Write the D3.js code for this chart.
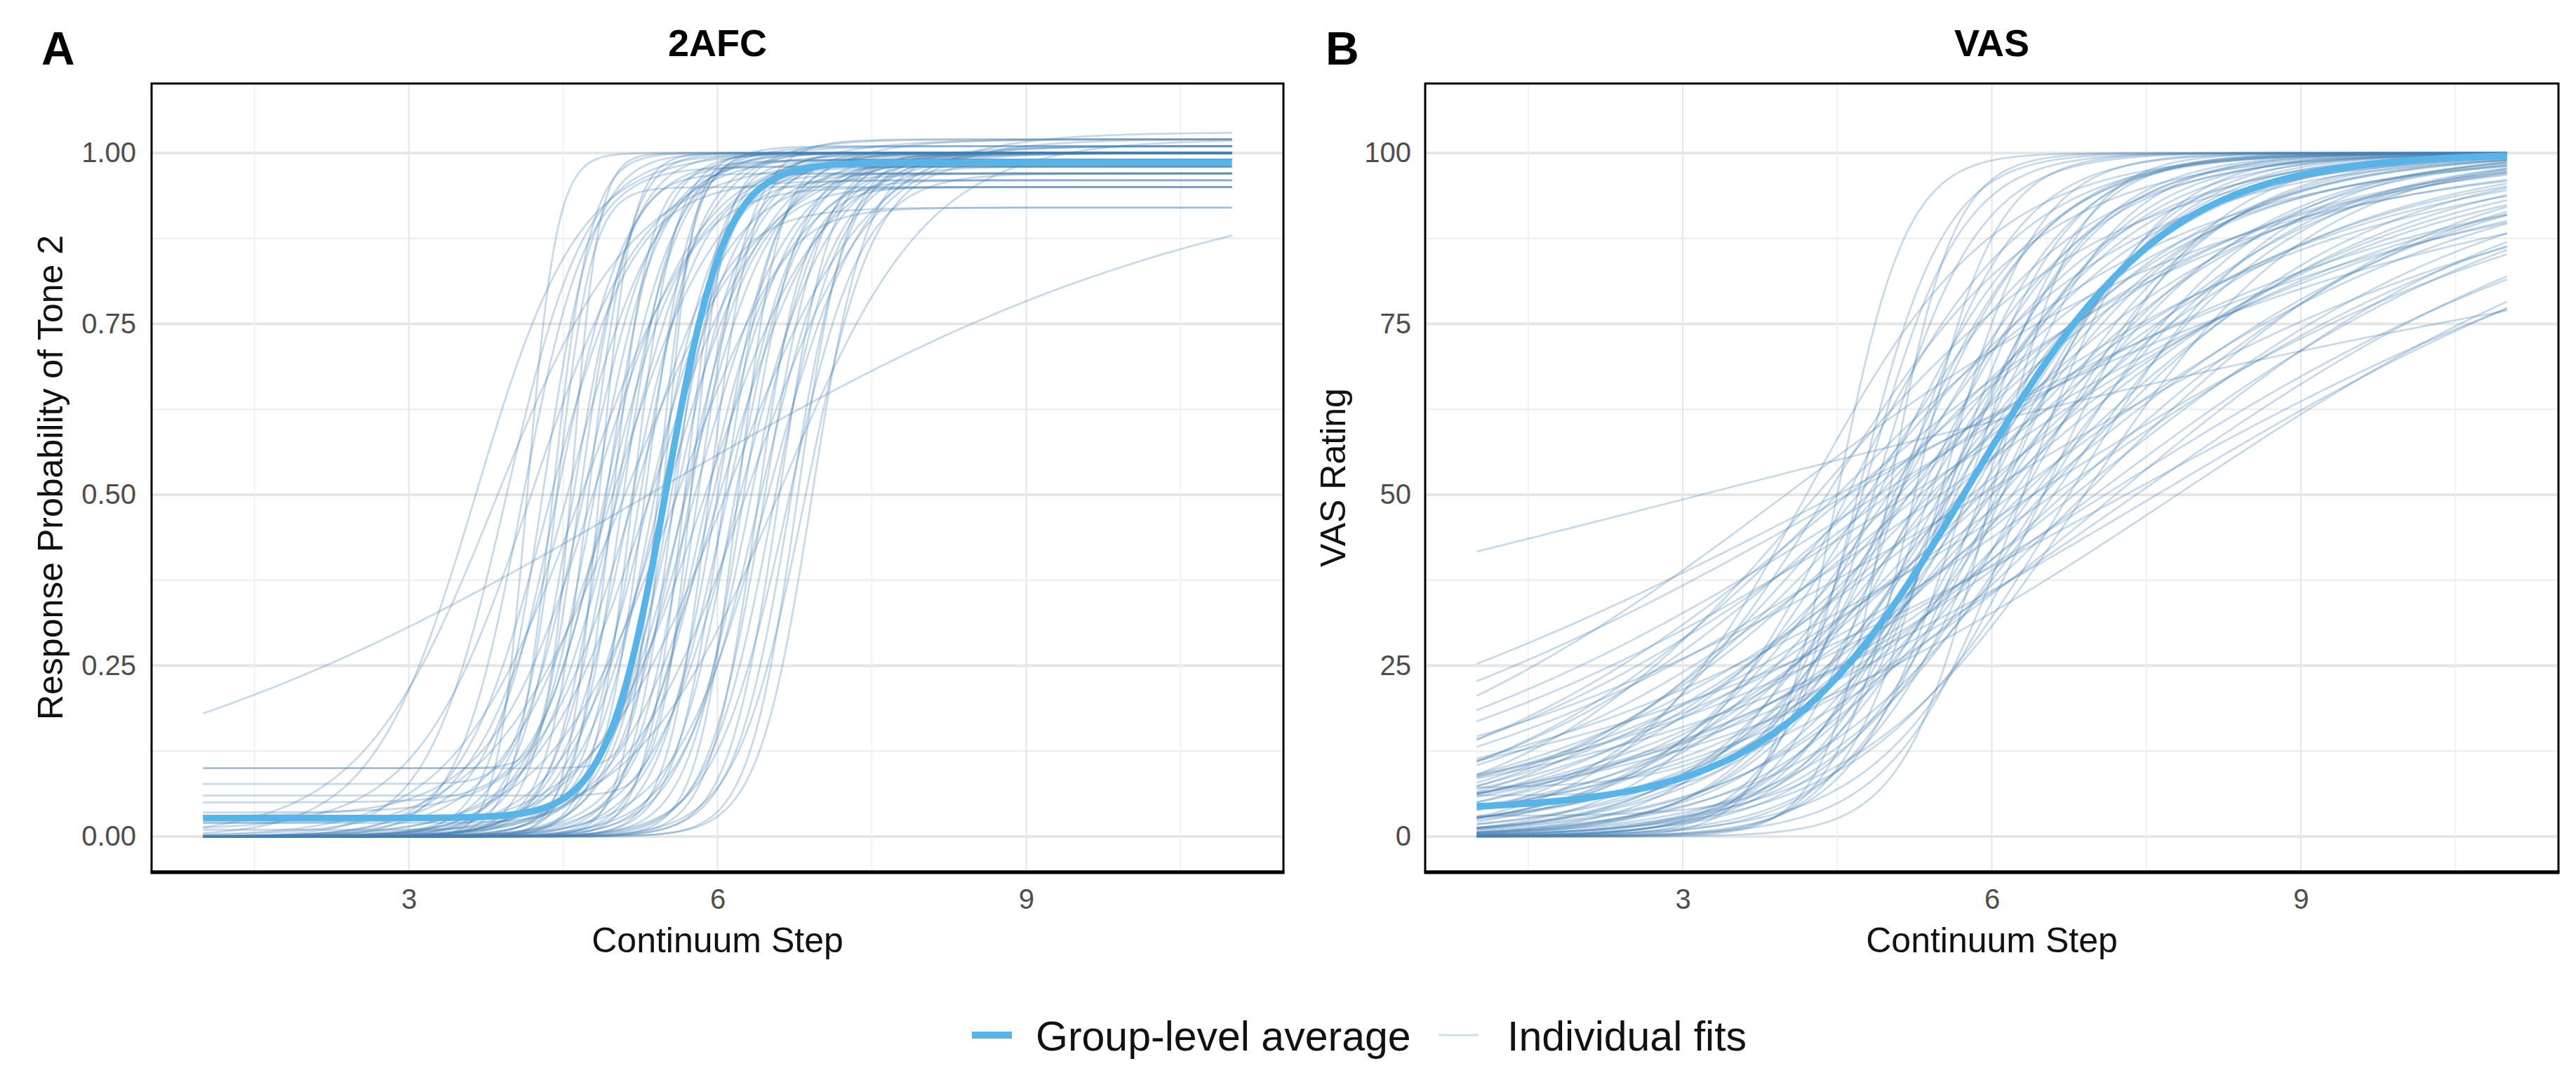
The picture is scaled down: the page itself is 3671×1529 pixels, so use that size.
<!DOCTYPE html>
<html>
<head>
<meta charset="utf-8">
<script src="https://cdn.jsdelivr.net/npm/d3@7"></script>
<style>
  body { margin: 0; background: #fff; }
  text { font-family: "Liberation Sans", Arial, Helvetica, sans-serif; }
</style>
</head>
<body>
<svg id="fig" width="3671" height="1529"></svg>
<script>
// ---- data ----
// each fit: [midpoint, slope, lower asymptote, upper asymptote]
const stepRange = [1, 11];
const xTicks = [3, 6, 9];
const xMinor = [1.5, 4.5, 7.5, 10.5];
const afcTicks = [0, 0.25, 0.5, 0.75, 1];
const afcMinor = [0.125, 0.375, 0.625, 0.875];
const vasTicks = [0, 25, 50, 75, 100];
const vasMinor = [12.5, 37.5, 62.5, 87.5];

const afcGroup = [5.5, 3.5, 0.027, 0.986];
const afcFits = [
  [3.65, 2.0, 0, 1.00], [3.85, 1.5, 0, 0.99], [3.95, 2.6, 0, 1.00], [4.15, 7.0, 0, 1.00],
  [4.10, 3.2, 0, 0.98], [4.20, 1.8, 0.01, 1.00], [4.30, 4.0, 0, 1.00], [4.35, 2.4, 0, 0.96],
  [4.40, 5.5, 0, 1.00], [4.45, 3.0, 0.02, 0.99], [4.45, 6.0, 0.077, 0.95], [4.60, 8.0, 0.10, 1.00],
  [4.55, 2.2, 0, 1.01], [4.60, 3.6, 0, 1.00], [4.65, 4.5, 0, 0.97], [4.70, 2.8, 0, 1.00],
  [4.70, 1.6, 0, 1.02], [4.75, 5.0, 0.01, 1.00], [4.80, 3.2, 0, 0.99], [4.82, 2.0, 0.03, 1.00],
  [4.85, 6.5, 0, 1.00], [4.90, 2.6, 0, 0.95], [4.92, 4.0, 0, 1.00], [4.95, 3.0, 0.05, 1.01],
  [4.98, 1.9, 0, 1.00], [4.98, 5.5, 0, 0.98], [5.02, 3.4, 0, 1.00], [5.05, 2.4, 0, 1.02],
  [5.08, 4.2, 0, 0.99], [5.10, 1.5, 0, 1.00], [5.15, 3.0, 0, 0.97], [5.18, 5.0, 0, 1.00],
  [5.20, 2.2, 0.035, 0.97], [5.25, 3.6, 0, 1.00], [5.28, 2.7, 0, 0.92], [5.30, 4.5, 0, 1.01],
  [5.35, 1.8, 0, 1.00], [5.38, 3.2, 0, 0.98], [5.42, 6.0, 0, 1.00], [5.45, 2.5, 0, 1.00],
  [5.48, 3.8, 0.02, 0.96], [5.50, 7.5, 0.10, 1.00], [5.52, 2.0, 0, 1.02], [5.55, 3.4, 0, 1.00],
  [5.58, 4.6, 0, 0.99], [5.60, 2.8, 0, 1.00], [5.62, 1.6, 0, 1.01], [5.65, 3.0, 0, 0.95],
  [5.68, 5.2, 0, 1.00], [5.70, 2.4, 0, 1.00], [5.72, 3.6, 0, 0.97], [5.75, 6.5, 0.06, 0.97],
  [5.78, 2.2, 0, 1.00], [5.82, 4.0, 0, 1.02], [5.85, 3.0, 0, 0.92], [5.88, 1.8, 0, 1.00],
  [5.92, 4.8, 0, 1.00], [5.95, 2.6, 0, 0.99], [6.00, 3.5, 0, 1.00], [6.03, 2.0, 0, 1.01],
  [6.06, 4.2, 0, 0.98], [6.10, 2.8, 0, 1.00], [6.12, 1.5, 0, 1.03], [6.15, 3.4, 0, 0.96],
  [6.20, 5.0, 0, 1.00], [6.22, 2.3, 0, 1.00], [6.25, 3.8, 0, 0.99], [6.30, 1.7, 0, 1.02],
  [6.33, 3.0, 0, 1.00], [6.38, 4.4, 0, 0.95], [6.42, 2.6, 0, 1.00], [6.46, 3.6, 0, 1.00],
  [6.50, 2.2, 0, 1.01], [6.55, 3.2, 0, 0.98], [6.60, 4.0, 0, 1.00], [6.62, 1.4, 0, 1.02],
  [6.68, 2.8, 0, 0.97], [6.72, 3.6, 0, 1.00], [6.78, 4.2, 0, 1.00], [6.85, 3.0, 0, 0.99],
  [6.92, 3.8, 0, 1.00], [5.33, 0.35, 0, 1.00]
];

const vasGroup = [5.8, 1.05, 3.8, 100];
const vasFits = [
  // steep
  [4.50, 3.0, 0, 100], [4.70, 2.4, 0, 100], [4.85, 2.0, 0, 100], [5.00, 3.2, 0, 100],
  [5.10, 1.8, 0, 100], [5.25, 2.6, 0, 100], [5.40, 1.6, 0, 100], [5.50, 2.2, 0, 100],
  [5.60, 1.5, 0, 100], [5.75, 1.9, 0, 100], [5.90, 1.6, 0, 100], [6.00, 2.4, 0, 100],
  [6.10, 1.4, 0, 100], [6.30, 1.65, 0, 100], [6.50, 1.3, 0, 100],
  [5.20, 1.5, 7, 100], [4.80, 2.2, 6, 100], [5.60, 1.8, 3, 100],
  // medium
  [4.60, 1.2, 0, 100], [4.80, 1.0, 0, 100], [4.90, 1.3, 0, 100], [5.00, 0.9, 0, 100],
  [5.10, 1.1, 0, 100], [5.20, 0.85, 0, 100], [5.30, 1.25, 0, 100], [5.35, 1.0, 0, 100],
  [5.45, 0.8, 0, 100], [5.50, 1.15, 0, 100], [5.60, 0.95, 0, 100], [5.65, 1.3, 0, 100],
  [5.70, 0.85, 0, 100], [5.80, 1.05, 0, 100], [5.85, 0.9, 0, 100], [5.95, 1.2, 0, 100],
  [6.00, 0.8, 0, 100], [6.10, 1.0, 0, 100], [6.20, 0.88, 0, 100], [6.30, 1.1, 0, 100],
  [6.40, 0.82, 0, 100], [6.50, 0.95, 0, 100], [6.60, 0.85, 0, 100], [6.75, 1.0, 0, 100],
  [6.90, 0.9, 0, 100], [4.40, 0.95, 0, 100], [4.20, 1.1, 0, 100], [5.05, 1.4, 0, 100],
  [5.55, 1.4, 0, 100], [6.05, 1.3, 0, 100],
  // wide
  [4.30, 0.70, 0, 100], [4.50, 0.60, 0, 100], [4.60, 0.50, 0, 100], [4.70, 0.72, 0, 100],
  [4.80, 0.55, 0, 100], [4.90, 0.65, 0, 100], [5.00, 0.45, 0, 100], [5.10, 0.60, 0, 100],
  [5.20, 0.70, 0, 100], [5.30, 0.50, 0, 100], [5.40, 0.62, 0, 100], [5.50, 0.42, 0, 100],
  [5.60, 0.55, 0, 100], [5.70, 0.68, 0, 100], [5.80, 0.48, 0, 100], [5.90, 0.60, 0, 100],
  [6.00, 0.52, 0, 100], [6.10, 0.72, 0, 100], [6.20, 0.45, 0, 100], [6.30, 0.58, 0, 100],
  [6.40, 0.50, 0, 100], [6.50, 0.65, 0, 100], [6.60, 0.42, 0, 100], [6.70, 0.55, 0, 100],
  [6.80, 0.48, 0, 100], [6.90, 0.60, 0, 100], [7.00, 0.45, 0, 100], [7.20, 0.50, 0, 100],
  [7.40, 0.42, 0, 100], [6.40, 0.38, 0, 100], [5.90, 0.36, 0, 100], [7.10, 0.38, 0, 100],
  [7.60, 0.36, 0, 100], [7.80, 0.40, 0, 100], [7.30, 0.33, 0, 100],
  [4.00, 0.45, 0, 100], [4.60, 0.34, 0, 100], [4.90, 0.38, 0, 100], [5.20, 0.38, 0, 100],
  [4.50, 0.31, 0, 100], [3.18, 0.154, 0, 100]
];

const legendLabels = ["Group-level average", "Individual fits"];

// ---- drawing ----
const svg = d3.select("#fig");
const groupColor = "#56B4E9";
const fitColor = "#4682B4";

function fitValue(f, x) {
  const [mid, slope, low, high] = f;
  return low + (high - low) / (1 + Math.exp(-slope * (x - mid)));
}

const samples = d3.range(stepRange[0], stepRange[1] + 1e-9, 0.04);

const panels = [
  { tag: "A", title: "2AFC", ylab: "Response Probability of Tone 2",
    left: 216, right: 1829, tagX: 59, ylabX: 89, pad: 22,
    yDomain: [-0.0513, 1.1016], ticks: afcTicks, minor: afcMinor, fmt: d3.format(".2f"),
    fits: afcFits, group: afcGroup },
  { tag: "B", title: "VAS", ylab: "VAS Rating",
    left: 2031, right: 3646, tagX: 1889, ylabX: 1917, pad: 20,
    yDomain: [-5.13, 110.16], ticks: vasTicks, minor: vasMinor, fmt: d3.format("d"),
    fits: vasFits, group: vasGroup }
];
const plotTop = 119, plotBottom = 1242;

panels.forEach((p, i) => {
  const x = d3.scaleLinear().domain([0.5, 11.5]).range([p.left, p.right]);
  const y = d3.scaleLinear().domain(p.yDomain).range([plotBottom, plotTop]);
  const g = svg.append("g");

  const clipId = "clip" + i;
  svg.append("clipPath").attr("id", clipId)
    .append("rect").attr("x", p.left).attr("y", plotTop)
    .attr("width", p.right - p.left).attr("height", plotBottom - plotTop);

  const grid = g.append("g").attr("clip-path", `url(#${clipId})`);
  // horizontal grid
  grid.selectAll(".hmin").data(p.minor).join("line")
    .attr("x1", p.left).attr("x2", p.right)
    .attr("y1", d => y(d)).attr("y2", d => y(d))
    .attr("stroke", "#efefef").attr("stroke-width", 2.5);
  grid.selectAll(".hmaj").data(p.ticks).join("line")
    .attr("x1", p.left).attr("x2", p.right)
    .attr("y1", d => y(d)).attr("y2", d => y(d))
    .attr("stroke", "#e6e6e6").attr("stroke-width", 4);
  // vertical grid
  grid.selectAll(".vmin").data(xMinor).join("line")
    .attr("y1", plotTop).attr("y2", plotBottom)
    .attr("x1", d => x(d)).attr("x2", d => x(d))
    .attr("stroke", "#eeeff3").attr("stroke-width", 1.6);
  grid.selectAll(".vmaj").data(xTicks).join("line")
    .attr("y1", plotTop).attr("y2", plotBottom)
    .attr("x1", d => x(d)).attr("x2", d => x(d))
    .attr("stroke", "#e6e7ec").attr("stroke-width", 2.2);

  const line = f => d3.line()
    .x(s => x(s))
    .y(s => y(fitValue(f, s)))(samples);

  const curves = g.append("g").attr("clip-path", `url(#${clipId})`);
  curves.selectAll("path.fit").data(p.fits).join("path")
    .attr("class", "fit")
    .attr("d", d => line(d))
    .attr("fill", "none")
    .attr("stroke", fitColor)
    .attr("stroke-opacity", 0.3)
    .attr("stroke-width", 2.7);
  curves.append("path")
    .attr("d", line(p.group))
    .attr("fill", "none")
    .attr("stroke", groupColor)
    .attr("stroke-width", 9.5)
    .attr("stroke-linecap", "butt");

  // panel border
  g.append("rect")
    .attr("x", p.left).attr("y", plotTop)
    .attr("width", p.right - p.left).attr("height", plotBottom - plotTop)
    .attr("fill", "none").attr("stroke", "#000").attr("stroke-width", 3);
  g.append("line")
    .attr("x1", p.left - 1.5).attr("x2", p.right + 1.5)
    .attr("y1", plotBottom + 1).attr("y2", plotBottom + 1)
    .attr("stroke", "#000").attr("stroke-width", 5);

  // axes
  const xa = g.append("g").attr("transform", `translate(0,${plotBottom})`)
    .call(d3.axisBottom(x).tickValues(xTicks).tickSize(0).tickPadding(25));
  xa.select(".domain").remove();
  xa.selectAll("text").attr("font-size", 40).attr("fill", "#4d4d4d")
    .attr("font-family", "Liberation Sans, Arial, sans-serif");

  const ya = g.append("g").attr("transform", `translate(${p.left},0)`)
    .call(d3.axisLeft(y).tickValues(p.ticks).tickFormat(p.fmt).tickSize(0).tickPadding(p.pad));
  ya.select(".domain").remove();
  ya.selectAll("text").attr("font-size", 40).attr("fill", "#4d4d4d")
    .attr("font-family", "Liberation Sans, Arial, sans-serif");

  // titles and labels
  g.append("text").attr("x", (p.left + p.right) / 2).attr("y", 80)
    .attr("text-anchor", "middle").attr("font-size", 54).attr("font-weight", "bold")
    .text(p.title);
  g.append("text").attr("x", p.tagX).attr("y", 92)
    .attr("font-size", 66).attr("font-weight", "bold").text(p.tag);
  g.append("text").attr("x", (p.left + p.right) / 2).attr("y", 1357)
    .attr("text-anchor", "middle").attr("font-size", 50).attr("fill", "#111")
    .text("Continuum Step");
  g.append("text")
    .attr("transform", `translate(${p.ylabX},${(plotTop + plotBottom) / 2}) rotate(-90)`)
    .attr("text-anchor", "middle").attr("font-size", 50).attr("fill", "#111")
    .text(p.ylab);
});

// legend
const legend = svg.append("g");
const keyStyles = [
  { x: 1385, color: groupColor, width: 10, opacity: 1, textX: 1476 },
  { x: 2050, color: fitColor, width: 3, opacity: 0.26, textX: 2148 }
];
legendLabels.forEach((lab, i) => {
  const k = keyStyles[i];
  legend.append("line")
    .attr("x1", k.x).attr("x2", k.x + 57).attr("y1", 1475).attr("y2", 1475)
    .attr("stroke", k.color).attr("stroke-width", k.width).attr("stroke-opacity", k.opacity);
  legend.append("text").attr("x", k.textX).attr("y", 1497)
    .attr("font-size", 59).attr("fill", "#111").text(lab);
});
</script>
</body>
</html>
